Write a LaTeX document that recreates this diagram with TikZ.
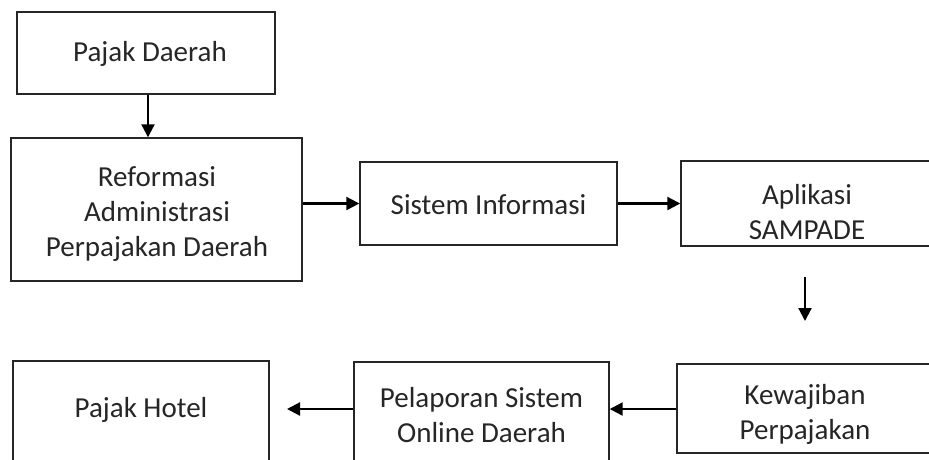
\documentclass[tikz,border=0pt]{standalone}
\usepackage{fontspec}
\setmainfont{Carlito}
\usetikzlibrary{arrows.meta}
\begin{document}
\begin{tikzpicture}[x=1pt,y=-1pt,
  box/.style={draw=black!85,line width=1.4pt,inner sep=0pt},
  txt/.style={align=center,inner sep=0pt,font=\fontsize{29}{35}\selectfont,text=black!85},
  arr/.style={line width=2.2pt,-{Triangle[length=13pt,width=13pt]}}]
\clip (0,0) rectangle (929,459);
\fill[white] (0,0) rectangle (929,459);
\node[box,minimum width=258pt,minimum height=82pt] (pd) at (146,53) {};
\node[txt] (pdt) at (150,54) {Pajak Daerah};
\node[box,minimum width=291pt,minimum height=143pt] (ra) at (156.5,209.5) {};
\node[txt] (rat) at (157,214) {Reformasi\\Administrasi\\Perpajakan Daerah};
\node[box,minimum width=257pt,minimum height=83pt] (si) at (488.5,203.5) {};
\node[txt] (sit) at (488.5,205) {Sistem Informasi};
\node[box,minimum width=258pt,minimum height=85pt] (ap) at (810,203.5) {};
\node[txt] (apt) at (807,212) {Aplikasi\\SAMPADE};
\node[box,minimum width=262pt,minimum height=89pt] (kw) at (808,408.5) {};
\node[txt] (kwt) at (805,414) {Kewajiban\\Perpajakan};
\node[box,minimum width=255pt,minimum height=105pt] (pl) at (481.5,414.5) {};
\node[txt] (plt) at (481.5,415) {Pelaporan Sistem\\Online Daerah};
\node[box,minimum width=256pt,minimum height=110pt] (ph) at (141,416) {};
\node[txt] (pht) at (141,410) {Pajak Hotel};
\coordinate (dstart) at (805,277);
\coordinate (dend) at (805,321);
\coordinate (phend) at (287,409);
\draw[arr] (pd.south -| 148,0) -- (ra.north -| 148,0);
\draw[arr] (ra.east |- si.west) -- (si.west);
\draw[arr] (si.east) -- (ap.west);
\draw[arr] (dstart) -- (dend);
\draw[arr] (kw.west |- phend) -- (pl.east |- phend);
\draw[arr] (pl.west |- phend) -- (phend);
\end{tikzpicture}
\end{document}
